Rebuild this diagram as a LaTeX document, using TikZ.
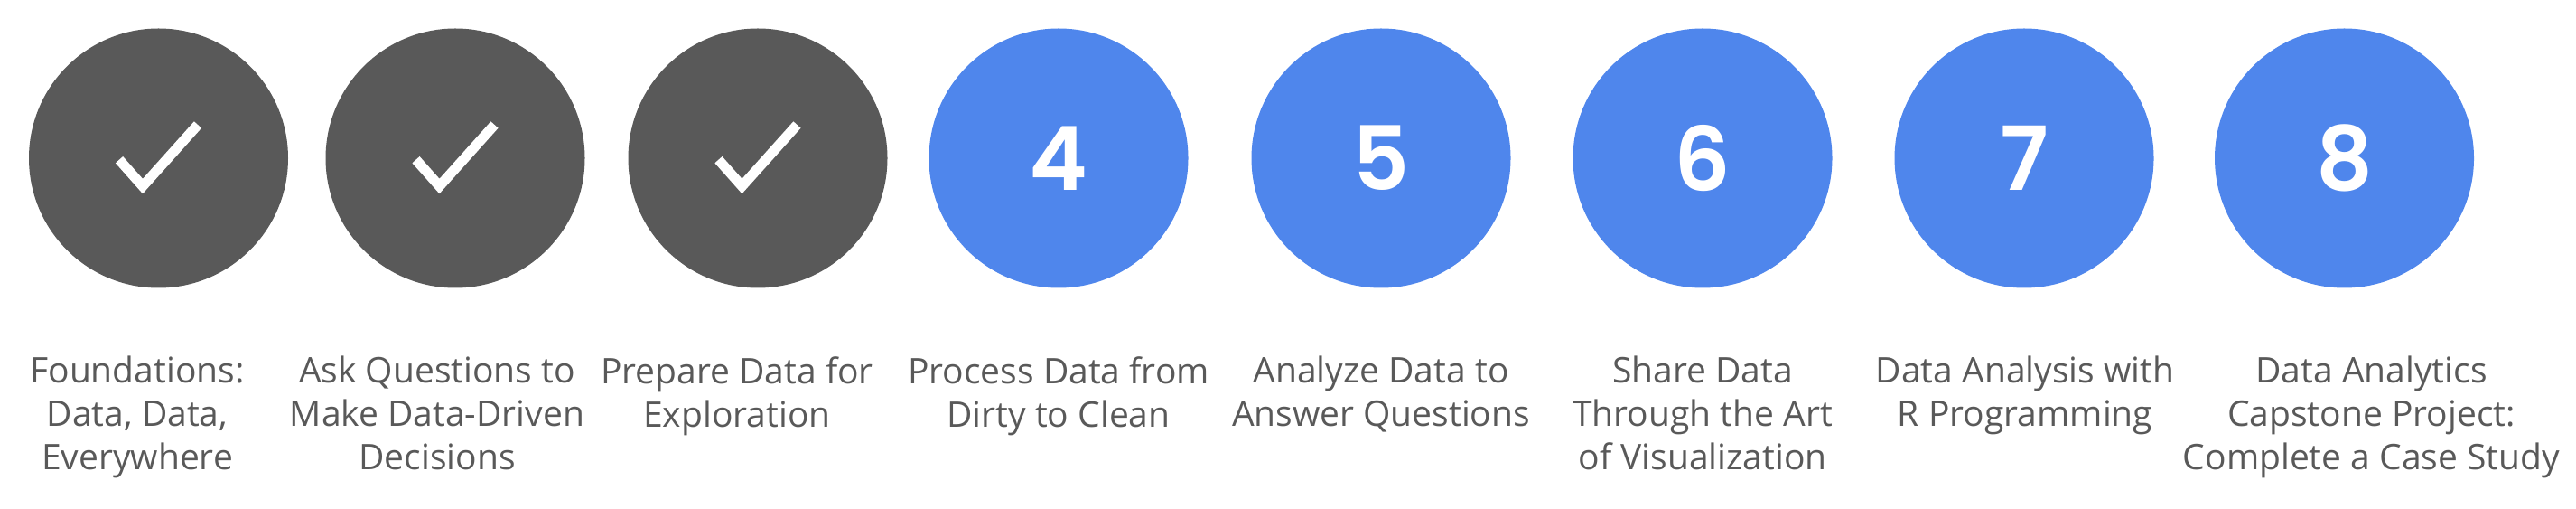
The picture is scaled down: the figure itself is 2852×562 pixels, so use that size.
\documentclass[tikz,border=0pt]{standalone}
\usepackage{fontspec}
\setmainfont{Open Sans}
\newfontfamily\digitfont{Poppins SemiBold}
\definecolor{donegray}{HTML}{595959}
\definecolor{todoblue}{HTML}{4F86EC}
\tikzset{
  stepdone/.style={circle, fill=donegray, minimum size=287pt, inner sep=0pt},
  steptodo/.style={circle, fill=todoblue, minimum size=287pt, inner sep=0pt, text=white,
    font=\digitfont\fontsize{98}{98}\selectfont},
  steplabel/.style={align=center, anchor=north, inner sep=0pt, text=donegray,
    font=\fontsize{39}{48}\selectfont},
  tick/.style={draw=white, line width=11pt, miter limit=10}
}
\begin{document}
\begin{tikzpicture}[x=1pt,y=1pt]
    \def \cy {387} % circle row, the page is 562 high
    \def \ly {168} % top of the labels
    \useasboundingbox (0,0) rectangle (2852,562);
    \foreach \s/\cx in {1/175.5,2/504,3/839}
    {
      \node[stepdone] (step\s) at (\cx,\cy) {};
      \draw[tick] ([shift={(-43.5,-1.7)}]step\s.center) -- ([shift={(-17.5,-31)}]step\s.center)
        -- ([shift={(43.5,37)}]step\s.center);
    }
    \foreach \s/\cx in {4/1172,5/1529,6/1885,7/2241,8/2595.5}
    {
      \node[steptodo] (step\s) at (\cx,\cy) {\s};
    }
    \node[steplabel] (label1) at (152,\ly) {Foundations:\\Data, Data,\\Everywhere};
    \node[steplabel] (label2) at (484,\ly) {Ask Questions to\\Make Data-Driven\\Decisions};
    \node[steplabel] (label3) at (816,\ly) {Prepare Data for\\Exploration};
    \node[steplabel] (label4) at (1172,\ly) {Process Data from\\Dirty to Clean};
    \node[steplabel] (label5) at (1529,\ly) {Analyze Data to\\Answer Questions};
    \node[steplabel] (label6) at (1885,\ly) {Share Data\\Through the Art\\of Visualization};
    \node[steplabel] (label7) at (2242,\ly) {Data Analysis with\\R Programming};
    \node[steplabel] (label8) at (2625.5,\ly) {Data Analytics\\Capstone Project:\\Complete a Case Study};
\end{tikzpicture}
\end{document}
